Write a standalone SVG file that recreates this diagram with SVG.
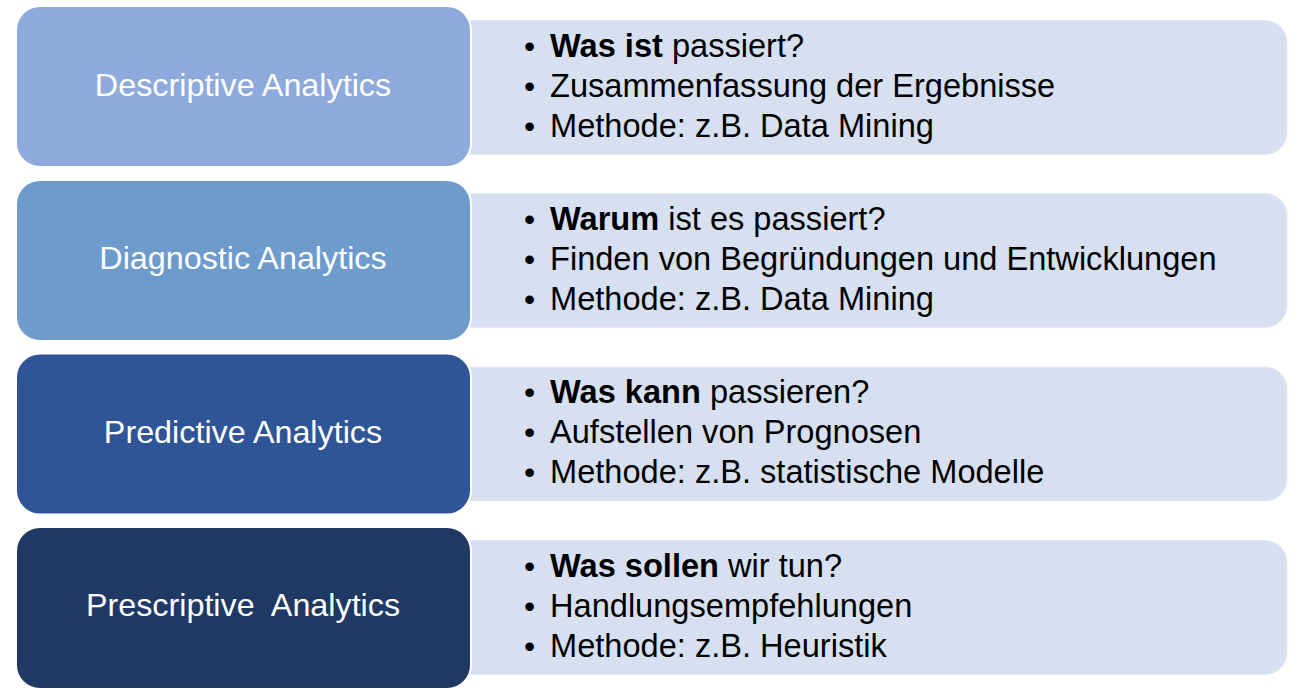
<svg xmlns="http://www.w3.org/2000/svg" width="1305" height="695" viewBox="0 0 1305 695">
<style>
.panel{fill:#D6E0F0;stroke:#E4EAF5;stroke-width:1}
.head{stroke:#FFFFFF;stroke-width:2}
.ht{font-family:"Liberation Sans",Arial,sans-serif;font-size:30.5px;fill:#FFFFFF;text-anchor:middle;white-space:pre}
.bt{font-family:"Liberation Sans",Arial,sans-serif;font-size:32.6px;fill:#000000}
.bu{font-family:"Liberation Sans",Arial,sans-serif;font-size:32px;fill:#000000}
.b{font-weight:bold}
</style>
<rect width="1305" height="695" fill="#FFFFFF"/>
<g id="row1">
<rect class="panel" x="440" y="20.5" width="847" height="134" rx="22"/>
<rect class="head" x="16" y="6" width="455" height="161" rx="24" fill="#8EA9DB"/>
<text class="ht" transform="translate(243 96) scale(1.06 1)">Descriptive Analytics</text>
<text class="bu" x="524" y="57">•</text><text class="bt" x="550" y="57"><tspan class="b">Was ist</tspan> passiert?</text>
<text class="bu" x="524" y="97">•</text><text class="bt" x="550" y="97">Zusammenfassung der Ergebnisse</text>
<text class="bu" x="524" y="137">•</text><text class="bt" x="550" y="137">Methode: z.B. Data Mining</text>
</g>
<g id="row2">
<rect class="panel" x="440" y="193.5" width="847" height="134" rx="22"/>
<rect class="head" x="16" y="180" width="455" height="161" rx="24" fill="#6C9BCC"/>
<text class="ht" transform="translate(243 269) scale(1.06 1)">Diagnostic Analytics</text>
<text class="bu" x="524" y="230">•</text><text class="bt" x="550" y="230"><tspan class="b">Warum</tspan> ist es passiert?</text>
<text class="bu" x="524" y="270">•</text><text class="bt" x="550" y="270">Finden von Begründungen und Entwicklungen</text>
<text class="bu" x="524" y="310">•</text><text class="bt" x="550" y="310">Methode: z.B. Data Mining</text>
</g>
<g id="row3">
<rect class="panel" x="440" y="367" width="847" height="134" rx="22"/>
<rect class="head" x="16" y="353.5" width="455" height="161" rx="24" fill="#2F5597"/>
<text class="ht" transform="translate(243 443) scale(1.06 1)">Predictive Analytics</text>
<text class="bu" x="524" y="403">•</text><text class="bt" x="550" y="403"><tspan class="b">Was kann</tspan> passieren?</text>
<text class="bu" x="524" y="443">•</text><text class="bt" x="550" y="443">Aufstellen von Prognosen</text>
<text class="bu" x="524" y="483">•</text><text class="bt" x="550" y="483">Methode: z.B. statistische Modelle</text>
</g>
<g id="row4">
<rect class="panel" x="440" y="540.5" width="847" height="134" rx="22"/>
<rect class="head" x="16" y="527" width="455" height="162" rx="24" fill="#203864"/>
<text class="ht" transform="translate(243 616) scale(1.06 1)">Prescriptive  Analytics</text>
<text class="bu" x="524" y="577">•</text><text class="bt" x="550" y="577"><tspan class="b">Was sollen</tspan> wir tun?</text>
<text class="bu" x="524" y="617">•</text><text class="bt" x="550" y="617">Handlungsempfehlungen</text>
<text class="bu" x="524" y="657">•</text><text class="bt" x="550" y="657">Methode: z.B. Heuristik</text>
</g>
<g id="connectors"></g>
</svg>
